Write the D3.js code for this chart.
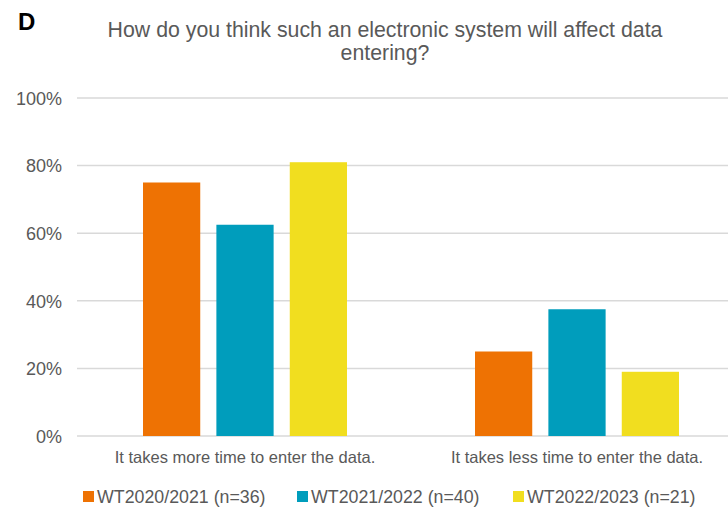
<!DOCTYPE html>
<html>
<head>
<meta charset="utf-8">
<script src="https://cdn.jsdelivr.net/npm/d3@7"></script>
<style>
  html, body { margin: 0; padding: 0; background: #fff; }
  svg { display: block; font-family: "Liberation Sans", Arial, sans-serif; }
</style>
</head>
<body>
<svg id="chart" width="728" height="510"></svg>
<script>
// Answer categories and survey cohorts
const categories = ["It takes more time to enter the data.", "It takes less time to enter the data."];
const seriesNames = ["WT2020/2021 (n=36)", "WT2021/2022 (n=40)", "WT2022/2023 (n=21)"];
const seriesColors = ["#EE7203", "#009DBC", "#F1DE1F"];
// Share of respondents (%) per cohort, one array per answer
const moreTime = [75, 62.5, 81];
const lessTime = [25, 37.5, 19];
const yTicks = [0, 20, 40, 60, 80, 100];

const values = [moreTime, lessTime];
const rows = categories.map((c, i) => ({ category: c, vals: values[i] }));

const svg = d3.select("#chart");
const W = 728, H = 510;
const plot = { left: 79, right: 743, top: 98, bottom: 436 };

const x0 = d3.scaleBand().domain(categories).range([plot.left, plot.right]).paddingInner(0).paddingOuter(0);
const x1 = d3.scaleBand().domain(seriesNames).range([64, x0.bandwidth() - 64]).paddingInner(0.22);
const y = d3.scaleLinear().domain([0, 100]).range([plot.bottom, plot.top]);

// Panel letter
svg.append("text").attr("x", 18).attr("y", 30)
  .attr("font-size", 24).attr("font-weight", "bold").attr("fill", "#000").text("D");

// Title
const title = svg.append("text").attr("text-anchor", "middle").attr("font-size", 21.3).attr("fill", "#595959");
title.append("tspan").attr("x", 385).attr("y", 37).text("How do you think such an electronic system will affect data");
title.append("tspan").attr("x", 385).attr("y", 60).text("entering?");

// Gridlines
svg.append("g").selectAll("line").data(yTicks).join("line")
  .attr("x1", plot.left - 2).attr("x2", W)
  .attr("y1", d => y(d)).attr("y2", d => y(d))
  .attr("stroke", "#D9D9D9").attr("stroke-width", 1.5);

// Y axis labels
const yAxis = d3.axisLeft(y).tickValues(yTicks).tickFormat(d => d + "%").tickSize(0).tickPadding(0);
const yg = svg.append("g").attr("transform", `translate(${62},0)`).call(yAxis);
yg.select(".domain").remove();
yg.attr("font-size", null).attr("font-family", null);
yg.selectAll("text").attr("font-size", 18).attr("fill", "#595959").attr("dy", "0.35em");

// Bars
const groups = svg.append("g").selectAll("g").data(rows).join("g")
  .attr("transform", d => `translate(${x0(d.category)},0)`);
groups.selectAll("rect").data(d => d.vals.map((v, i) => ({ name: seriesNames[i], v, i })))
  .join("rect")
  .attr("x", d => x1(d.name))
  .attr("width", x1.bandwidth())
  .attr("y", d => y(d.v))
  .attr("height", d => y(0) - y(d.v))
  .attr("fill", d => seriesColors[d.i]);

// Category labels
const xAxis = d3.axisBottom(x0).tickSize(0).tickPadding(0);
const xg = svg.append("g").attr("transform", `translate(0,${plot.bottom + 15})`).call(xAxis);
xg.select(".domain").remove();
xg.attr("font-size", null).attr("font-family", null);
xg.selectAll("text").attr("font-size", 16.5).attr("fill", "#595959").attr("dy", "0.7em");

// Legend
const legendX = [83, 297, 513];
const legend = svg.append("g").selectAll("g").data(seriesNames).join("g")
  .attr("transform", (d, i) => `translate(${legendX[i]},${497})`);
legend.append("rect").attr("x", 0).attr("y", -6).attr("width", 11).attr("height", 11)
  .attr("fill", (d, i) => seriesColors[i]);
legend.append("text").attr("x", 14).attr("y", 0).attr("dy", "0.35em")
  .attr("font-size", 17.8).attr("fill", "#595959").text(d => d);
</script>
</body>
</html>
